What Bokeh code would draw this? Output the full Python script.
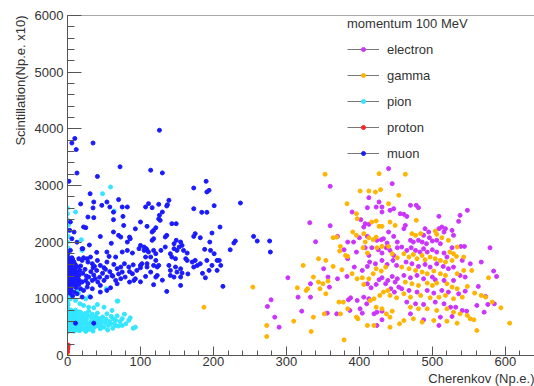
from bokeh.plotting import figure
from bokeh.models import Range1d, FixedTicker, Span, Legend, LegendItem, Title
from bokeh.embed import file_html
from bokeh.resources import INLINE

# ---------------- data ----------------
x_ticks = [0, 100, 200, 300, 400, 500, 600]
x_minor = list(range(0, 641, 20))
y_ticks = [0, 1000, 2000, 3000, 4000, 5000, 6000]
y_minor = list(range(0, 6001, 200))

series_names = ["electron", "gamma", "pion", "proton", "muon"]
series_colors = ["#cc33ff", "#ffb400", "#33e6ff", "#ff2222", "#1a1aff"]

electron_pts = [
    (360, 2986), (440, 3298), (445, 3033), (413, 2785), (427, 2709), (390, 2532), (411, 2609), (423, 2620),
    (431, 2620), (431, 2532), (442, 2562), (447, 2591), (402, 2397), (408, 2326), (406, 2267), (413, 2314),
    (332, 2344), (360, 2291), (440, 2179), (433, 2061), (438, 1984), (447, 2102), (452, 2002), (392, 2002),
    (400, 2079), (411, 2102), (424, 2032), (430, 2043), (340, 2008), (370, 2102), (384, 2002), (379, 1866),
    (384, 1708), (396, 1825), (408, 1902), (413, 1766), (417, 1902), (426, 1866), (431, 1808), (437, 1902),
    (442, 1855), (447, 1766), (452, 1902), (351, 1531), (357, 1384), (370, 1354), (383, 1395), (302, 1372),
    (333, 1266), (316, 1030), (333, 1030), (359, 1207), (279, 983), (274, 865), (284, 677), (290, 500),
    (321, 783), (356, 747), (369, 735), (385, 983), (388, 1018), (397, 971), (387, 795), (401, 824),
    (404, 747), (406, 1030), (413, 1001), (410, 912), (420, 735), (424, 765), (431, 783), (431, 630),
    (424, 530), (411, 1266), (416, 1195), (423, 1254), (427, 1337), (431, 1372), (436, 1266), (439, 1325),
    (445, 1395), (449, 1295), (452, 1354), (443, 1178), (448, 1119), (454, 1207), (393, 1560), (404, 1501),
    (411, 1572), (414, 1649), (422, 1619), (431, 1678), (438, 1607), (446, 1678), (451, 1590),
    (470, 2650), (478, 2650), (481, 2609), (456, 2503), (461, 2491), (465, 2455), (509, 2456), (538, 2473),
    (548, 2562), (536, 2367), (463, 2296), (461, 2238), (490, 2238), (495, 2179), (488, 2120), (496, 2079),
    (509, 2238), (513, 2267), (516, 2179), (518, 2238), (527, 2208), (529, 2120), (470, 2032), (474, 2002),
    (481, 2032), (486, 2002), (492, 1973), (500, 2020), (506, 2032), (511, 1973), (527, 1902), (539, 1925),
    (544, 1925), (458, 1914), (465, 1855), (471, 1902), (477, 1855), (483, 1825), (488, 1884), (493, 1825),
    (500, 1866), (506, 1825), (516, 1808), (520, 1737), (464, 1649), (472, 1619), (481, 1572), (490, 1607),
    (497, 1560), (506, 1619), (515, 1572), (522, 1531), (529, 1560), (541, 1678), (552, 1619), (461, 1413),
    (470, 1372), (479, 1413), (488, 1354), (500, 1384), (504, 1337), (516, 1325), (529, 1325), (538, 1413),
    (545, 1384), (458, 1178), (468, 1148), (479, 1119), (493, 1148), (502, 1101), (513, 1148), (522, 1119),
    (536, 1089), (545, 1136), (465, 942), (477, 912), (488, 901), (504, 942), (516, 912), (525, 853),
    (532, 853), (541, 795), (547, 783), (470, 735), (488, 630), (511, 677), (527, 689), (509, 530),
    (579, 1902), (567, 1649), (584, 1490), (588, 1395), (563, 1219), (573, 1042), (561, 883), (576, 901),
    (585, 912), (571, 765),
]

gamma_pts = [
    (353, 3198), (427, 3209), (401, 2903), (413, 2903), (422, 2885), (429, 2927), (383, 2679), (396, 2503),
    (440, 2679), (397, 2414), (417, 2356), (423, 2373), (427, 2279), (431, 2279), (442, 2355), (449, 2296),
    (391, 2179), (396, 2120), (406, 2150), (413, 2079), (408, 2002), (419, 2043), (423, 2090), (364, 2079),
    (369, 2090), (374, 1925), (373, 1843), (381, 1766), (384, 1749), (405, 1902), (411, 1808), (424, 1902),
    (431, 1925), (440, 1925), (445, 1796), (452, 1725), (344, 1708), (354, 1678), (323, 1590), (364, 1572),
    (376, 1513), (337, 1384), (344, 1296), (350, 1266), (357, 1313), (315, 1195), (327, 1148), (354, 1089),
    (329, 1178), (346, 1178), (273, 530), (273, 335), (254, 1207), (310, 606), (334, 424), (337, 677),
    (352, 735), (374, 735), (372, 942), (378, 942), (384, 824), (396, 677), (398, 648), (415, 971),
    (420, 1001), (423, 853), (431, 824), (437, 735), (442, 677), (445, 783), (411, 530), (420, 530),
    (442, 500), (379, 276), (390, 1443), (397, 1354), (404, 1372), (406, 1254), (413, 1354), (419, 1443),
    (423, 1531), (430, 1490), (436, 1560), (433, 1119), (439, 1148), (442, 1060), (451, 1018), (428, 1060),
    (463, 3198), (454, 2827), (478, 2385), (472, 2150), (477, 2120), (484, 2150), (504, 2196), (506, 2138),
    (513, 2079), (522, 2032), (534, 1914), (524, 1825), (529, 1796), (533, 1749), (543, 1737), (461, 1796),
    (468, 1737), (474, 1784), (479, 1708), (486, 1766), (490, 1690), (497, 1737), (504, 1708), (511, 1678),
    (518, 1649), (527, 1678), (458, 1560), (468, 1531), (477, 1501), (486, 1472), (493, 1443), (502, 1490),
    (511, 1443), (518, 1413), (534, 1443), (543, 1501), (463, 1295), (472, 1266), (481, 1236), (493, 1278),
    (500, 1236), (506, 1278), (520, 1266), (527, 1207), (534, 1178), (548, 1219), (461, 1089), (470, 1030),
    (484, 1060), (497, 1018), (509, 1030), (518, 1060), (529, 1001), (541, 1030), (470, 853), (481, 824),
    (493, 824), (506, 795), (520, 824), (529, 765), (538, 735), (548, 706), (474, 648), (486, 589),
    (502, 618), (520, 606), (534, 571), (461, 618), (455, 560), (554, 1501), (577, 1372), (558, 1101),
    (567, 1060), (573, 1030), (582, 942), (594, 842), (552, 648), (557, 630), (606, 571), (561, 441),
    (187, 853), (0, 8),
]

pion_pts = [
    (59, 2973), (48, 2856), (64, 2550), (0, 2503), (11, 2533), (0, 2395), (19, 2044), (20, 1855), (0, 1807),
    (0, 2600), (1, 2300), (0.5, 2200), (1, 2100), (0, 2000), (0.5, 1900), (1, 1750), (0, 1700), (0.5, 1650),
    (1, 1600), (0.5, 1500), (0, 1450), (1, 1400), (0.5, 1300), (0, 1250), (1, 1200), (0.5, 1150), (0, 1100),
    (1, 1050), (0.5, 1000), (0, 950), (1, 900), (0, 850), (2, 1300), (3, 1050), (68, 960), (53, 1178),
    (15, 1100), (25, 1000), (14, 1150), (30, 1040),
    (0, 420), (1, 460), (0, 500), (2, 540), (1, 580), (0, 620), (1, 660), (2, 700), (0, 740), (1, 780), (0, 820),
    (3, 450), (4, 510), (3, 570), (5, 630), (4, 690), (3, 750), (5, 800), (6, 470), (7, 540), (6, 600),
    (8, 660), (7, 720), (6, 780), (9, 430), (10, 500), (9, 560), (11, 620), (10, 680), (12, 740), (11, 800),
    (13, 460), (14, 530), (13, 590), (15, 650), (14, 710), (16, 770), (17, 440), (18, 510), (17, 580),
    (19, 640), (20, 700), (18, 760), (21, 470), (22, 550), (23, 610), (22, 680), (24, 740), (25, 430),
    (26, 500), (27, 570), (26, 640), (28, 700), (29, 780), (30, 460), (31, 530), (32, 600), (33, 670),
    (34, 730), (36, 490), (37, 560), (38, 630), (39, 690), (35, 430), (40, 520), (42, 590), (43, 650),
    (41, 750), (45, 470), (46, 550), (47, 610), (48, 680), (50, 500), (52, 580), (53, 640), (55, 450),
    (56, 530), (58, 600), (60, 690), (62, 480), (64, 560), (66, 620), (68, 700), (70, 520), (72, 600),
    (75, 650), (78, 730), (80, 560), (84, 620), (86, 665), (90, 480), (93, 500), (75, 530), (69, 960),
    (50, 853), (36, 842), (41, 900), (29, 853), (22, 883), (17, 912), (11, 971), (4, 1001), (63, 647),
    (59, 559), (45, 500), (34, 470), (25, 429), (15, 441), (54, 736), (61, 795), (9, 736), (27, 706),
    (38, 618), (43, 530), (66, 530),
]

proton_pts = [(0, 60), (0, 95), (0.5, 130), (0, 160), (1, 185)]

muon_pts = [
    (6, 3750), (10, 3830), (12, 3635), (35, 3750), (126, 3975), (13, 3220), (41, 3160), (2, 3075), (72, 3330),
    (114, 3270), (130, 3222), (173, 2956), (190, 3074), (191, 2886), (194, 2915), (31, 2855), (237, 2691),
    (18, 2675), (36, 2709), (47, 2650), (54, 2709), (58, 2621), (70, 2751), (75, 2621), (82, 2621), (35, 2605),
    (107, 2621), (111, 2680), (116, 2609), (125, 2668), (137, 2662), (139, 2739), (136, 2638), (173, 2591),
    (184, 2527), (191, 2527), (201, 2644), (130, 2532), (126, 2474), (63, 2530), (28, 2444), (36, 2433),
    (76, 2455), (100, 2356), (125, 2410), (63, 2397),
    (4, 2356), (25, 2256), (22, 2268), (3, 2209), (9, 2179), (63, 2179), (77, 2295), (93, 2235), (85, 2090),
    (73, 2090), (70, 2120), (86, 2061), (82, 2002), (6, 2061), (4, 1855), (20, 1885), (54, 1826), (75, 1826),
    (82, 1855), (89, 1808), (98, 1885), (105, 1855), (108, 1885), (127, 2385), (143, 2326), (149, 2326),
    (109, 2279), (121, 2255), (118, 2208), (116, 2179), (136, 2120), (134, 2091), (118, 2061), (116, 2032),
    (149, 2032), (146, 1973), (175, 2150), (173, 2102), (182, 2079), (198, 2161), (209, 2267), (195, 2002),
    (230, 2020), (228, 1985), (223, 1867), (255, 2102), (260, 2020), (277, 2020), (278, 1826), (188, 1873),
    (196, 1855), (201, 1796), (100, 1943), (105, 1914), (109, 1855), (111, 1826), (118, 1855), (121, 1796),
    (128, 1855), (134, 1914), (141, 1796), (146, 1885), (150, 1855), (153, 1914), (155, 2002), (157, 1943),
    (159, 1855), (164, 1808), (21, 1885), (0.5, 1795), (13, 2000), (30, 1950), (45, 2100), (60, 1980),
    (40, 1820),
    (208, 1678), (210, 1590), (205, 1502), (189, 1372), (213, 1220), (143, 1738), (148, 1708), (162, 1708),
    (164, 1678), (171, 1649), (175, 1678), (173, 1561), (178, 1590), (121, 1678), (125, 1590), (123, 1561),
    (118, 1590), (114, 1738), (109, 1620), (107, 1738), (102, 1620), (100, 1590), (139, 1590), (141, 1502),
    (148, 1561), (150, 1472), (155, 1531), (157, 1455), (146, 1384), (155, 1384), (141, 1413), (109, 1561),
    (114, 1472), (107, 1396), (121, 1384), (123, 1413), (191, 1678), (198, 1590), (205, 1678), (194, 1502),
    (182, 1620), (130, 1330), (165, 1440), (185, 1450), (100, 1300), (136, 1131), (155, 1237), (118, 1250),
    (6, 1725), (15.5, 1708), (20, 1678), (22, 1725), (27, 1708), (31.5, 1737), (28, 1649), (34, 1620),
    (41, 1678), (37, 1572), (45, 1590), (50, 1549), (54, 1649), (57, 1749), (66, 1737), (63.5, 1608),
    (68, 1531), (73, 1561), (75, 1472), (78, 1620), (84, 1561), (89, 1443), (93, 1354), (95, 1502),
    (100, 1549), (2, 1325), (6, 1266), (11, 1219), (15.5, 1254), (20, 1296), (25, 1325), (29, 1384),
    (34, 1325), (38, 1355), (41.5, 1296), (45, 1237), (50, 1325), (54, 1384), (61, 1413), (66, 1325),
    (68, 1266), (73, 1355), (79, 1384), (85, 1296), (91, 1325), (4, 1148), (9, 1119), (13, 1089), (18, 1178),
    (22, 1148), (27, 1207), (31.5, 1031), (45, 1119), (54, 1148), (59, 1195), (34, 1178), (20, 1031),
    (1, 1600), (2, 1550), (3, 1500), (1, 1450), (2, 1400), (4, 1350), (1, 1300), (3, 1250), (5, 1620),
    (6, 1560), (7, 1480), (5, 1420), (8, 1380), (6, 1300), (9, 1450), (10, 1520), (11, 1600), (12, 1400),
    (8, 1250), (10, 1330), (13, 1470), (14, 1560), (4, 1680), (7, 1700), (2, 1200), (5, 1180), (12, 1200),
    (15, 1350), (16, 1420), (17, 1500), (18, 1580), (3, 1640), (9, 1650), (0.5, 1520), (0.5, 1380),
    (6, 1450), (11, 1280), (19, 1300), (21, 1450), (24, 1520), (26, 1400), (1, 1720), (8, 1530), (14, 1290),
    (3, 1100), (7, 1050), (28, 1270), (32, 1480), (36, 1420), (40, 1500), (44, 1380), (48, 1450), (52, 1520),
    (58, 1480), (62, 1400), (70, 1440), (85, 1480), (90, 1600), (35, 1550),
    (11, 570), (36, 570),
]

all_points = [electron_pts, gamma_pts, pion_pts, proton_pts, muon_pts]

TEXT_FONT = "Liberation Sans"
AXIS_COLOR = "#555555"
TEXT_COLOR = "#333333"

X_MAX = 640
Y_MAX = 6000

# ---------------- figure ----------------
p = figure(width=534, height=386, output_backend="svg", toolbar_location=None,
           x_range=Range1d(0, X_MAX), y_range=Range1d(0, Y_MAX),
           min_border_left=67, min_border_right=0, min_border_top=15, min_border_bottom=31)
p.xgrid.visible = False
p.ygrid.visible = False
p.outline_line_color = None
p.background_fill_color = "white"
p.border_fill_color = "white"

p.xaxis.ticker = FixedTicker(ticks=x_ticks, minor_ticks=x_minor)
p.yaxis.ticker = FixedTicker(ticks=y_ticks, minor_ticks=y_minor)

for ax in (p.xaxis[0], p.yaxis[0]):
    ax.axis_line_color = AXIS_COLOR
    ax.major_tick_line_color = AXIS_COLOR
    ax.minor_tick_line_color = AXIS_COLOR
    ax.major_tick_out = 0
    ax.minor_tick_out = 0
    ax.major_label_text_font = TEXT_FONT
    ax.major_label_text_font_size = "13px"
    ax.major_label_text_color = TEXT_COLOR

p.xaxis.major_tick_in = 9
p.xaxis.minor_tick_in = 5
p.xaxis.major_label_standoff = 1
p.yaxis.major_tick_in = 14
p.yaxis.minor_tick_in = 7
p.yaxis.major_label_standoff = 4

# top frame line
p.add_layout(Span(location=Y_MAX, dimension="width", line_color=AXIS_COLOR, line_width=1))

# ---------------- scatter series ----------------
items = []
for name, color, pts in zip(series_names, series_colors, all_points):
    xs = [pt[0] for pt in pts]
    ys = [pt[1] for pt in pts]
    # one-point line: invisible on the plot, gives the legend its line sample
    sample = p.line(x=xs[:1], y=ys[:1], line_color="#777777", line_width=1)
    r = p.scatter(x=xs, y=ys, size=4, fill_color=color, line_color=color, line_width=1)
    items.append(LegendItem(label=name, renderers=[sample, r]))

legend = Legend(items=items, location=(280, 192), title="momentum 100 MeV",
                title_text_font=TEXT_FONT, title_text_font_size="13px",
                title_text_font_style="normal", title_text_color=TEXT_COLOR, title_standoff=8,
                label_text_font=TEXT_FONT, label_text_font_size="13px", label_text_color=TEXT_COLOR,
                glyph_width=32, glyph_height=10, label_height=20, spacing=6, padding=5, margin=0,
                label_standoff=8, border_line_color=None,
                background_fill_color="white", background_fill_alpha=1.0)
p.add_layout(legend)

# ---------------- axis titles ----------------
p.add_layout(Title(text="Cherenkov (Np.e.)", align="right", standoff=0,
                   text_font=TEXT_FONT, text_font_size="13px", text_font_style="normal",
                   text_color=TEXT_COLOR), "below")
p.add_layout(Title(text="Scintillation(Np.e. x10)", align="right", standoff=8,
                   text_font=TEXT_FONT, text_font_size="13px", text_font_style="normal",
                   text_color=TEXT_COLOR), "left")

open("out.html", "w").write(file_html(p, INLINE))
